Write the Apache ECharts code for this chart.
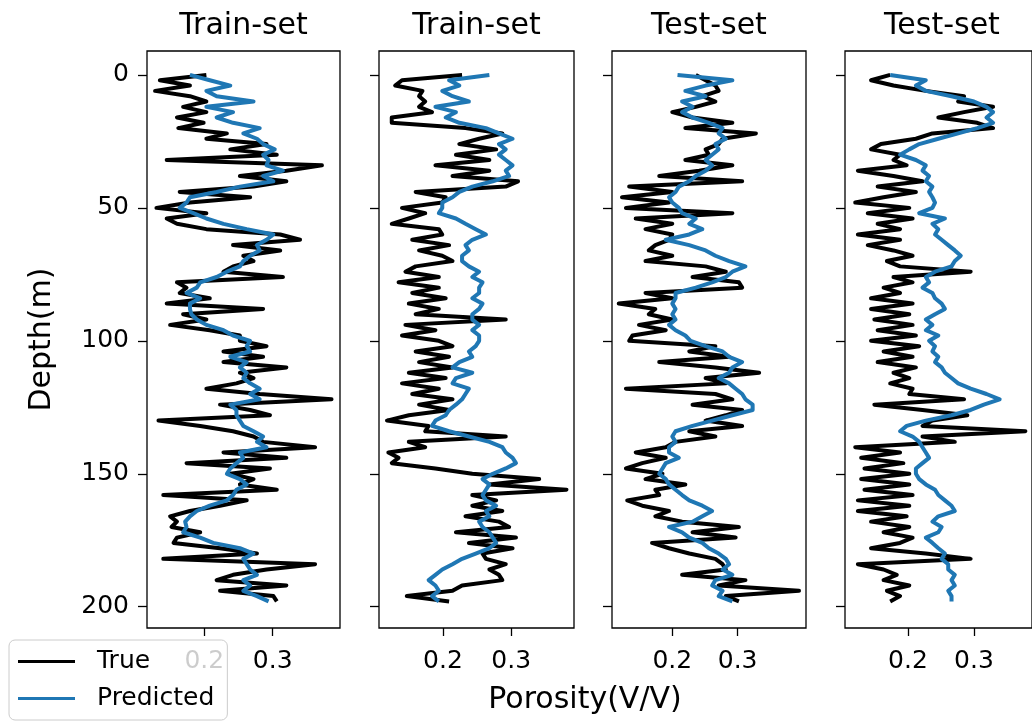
<!DOCTYPE html>
<html>
<head>
<meta charset="utf-8">
<script src="https://cdn.jsdelivr.net/npm/echarts@6/dist/echarts.min.js"></script>
<style>
    html, body { margin: 0; padding: 0; background: #fff; }
    #chart { width: 1032px; height: 723px; }
</style>
</head>
<body>
<div id="chart"></div>
<script>
// depth samples (m), shared by every curve
var depthM = [
    0, 2, 4, 6, 8, 10, 12, 14, 16, 18, 20, 22, 24, 26, 28, 30, 32, 34, 36, 38,
    40, 42, 44, 46, 48, 50, 52, 54, 56, 58, 60, 62, 64, 66, 68, 70, 72, 74, 76, 78,
    80, 82, 84, 86, 88, 90, 92, 94, 96, 98, 100, 102, 104, 106, 108, 110, 112, 114, 116, 118,
    120, 122, 124, 126, 128, 130, 132, 134, 136, 138, 140, 142, 144, 146, 148, 150, 152, 154, 156, 158,
    160, 162, 164, 166, 168, 170, 172, 174, 176, 178, 180, 182, 184, 186, 188, 190, 192, 194, 196, 198
];

var panelTitles = ['Train-set', 'Train-set', 'Test-set', 'Test-set'];
var depthTicks = [0, 50, 100, 150, 200];
var porosityTicks = [0.2, 0.3];

// well 1 (train)
var trueWell1 = [
    0.203, 0.135, 0.179, 0.128, 0.179, 0.203, 0.169, 0.203, 0.160, 0.199,
    0.162, 0.233, 0.203, 0.291, 0.238, 0.306, 0.145, 0.372, 0.320, 0.252,
    0.320, 0.272, 0.164, 0.267, 0.179, 0.130, 0.203, 0.145, 0.160, 0.203,
    0.311, 0.340, 0.242, 0.311, 0.257, 0.272, 0.242, 0.228, 0.315, 0.160,
    0.174, 0.164, 0.208, 0.145, 0.286, 0.169, 0.203, 0.150, 0.208, 0.252,
    0.252, 0.291, 0.228, 0.286, 0.228, 0.320, 0.252, 0.272, 0.247, 0.203,
    0.281, 0.386, 0.223, 0.267, 0.296, 0.133, 0.194, 0.242, 0.272, 0.286,
    0.362, 0.228, 0.320, 0.174, 0.296, 0.238, 0.272, 0.252, 0.306, 0.140,
    0.262, 0.223, 0.179, 0.150, 0.160, 0.152, 0.194, 0.160, 0.155, 0.223,
    0.277, 0.140, 0.362, 0.291, 0.242, 0.218, 0.320, 0.223, 0.301, 0.306
];
var predWell1 = [
    0.179, 0.208, 0.238, 0.203, 0.218, 0.272, 0.203, 0.242, 0.218, 0.242,
    0.281, 0.257, 0.277, 0.286, 0.303, 0.286, 0.294, 0.291, 0.315, 0.286,
    0.301, 0.252, 0.218, 0.179, 0.174, 0.164, 0.184, 0.203, 0.228, 0.262,
    0.301, 0.291, 0.277, 0.281, 0.267, 0.257, 0.252, 0.233, 0.218, 0.194,
    0.189, 0.174, 0.194, 0.179, 0.179, 0.181, 0.189, 0.203, 0.228, 0.242,
    0.267, 0.262, 0.267, 0.238, 0.262, 0.252, 0.262, 0.257, 0.267, 0.281,
    0.267, 0.281, 0.238, 0.247, 0.247, 0.252, 0.257, 0.272, 0.286, 0.277,
    0.291, 0.252, 0.257, 0.247, 0.238, 0.233, 0.252, 0.262, 0.247, 0.242,
    0.233, 0.208, 0.189, 0.179, 0.172, 0.174, 0.169, 0.194, 0.213, 0.252,
    0.272, 0.257, 0.262, 0.267, 0.277, 0.257, 0.267, 0.257, 0.277, 0.294
];

// well 2 (train)
var trueWell2 = [
    0.228, 0.140, 0.130, 0.170, 0.165, 0.174, 0.165, 0.184, 0.125, 0.125,
    0.233, 0.287, 0.253, 0.224, 0.278, 0.219, 0.268, 0.189, 0.268, 0.214,
    0.310, 0.292, 0.160, 0.204, 0.199, 0.140, 0.174, 0.150, 0.125, 0.194,
    0.199, 0.155, 0.209, 0.165, 0.199, 0.214, 0.160, 0.145, 0.194, 0.135,
    0.194, 0.155, 0.204, 0.150, 0.194, 0.160, 0.292, 0.145, 0.189, 0.140,
    0.194, 0.214, 0.160, 0.209, 0.165, 0.214, 0.150, 0.204, 0.140, 0.194,
    0.155, 0.214, 0.165, 0.209, 0.150, 0.118, 0.179, 0.174, 0.292, 0.150,
    0.174, 0.120, 0.135, 0.125, 0.189, 0.243, 0.341, 0.268, 0.381, 0.243,
    0.278, 0.243, 0.287, 0.233, 0.282, 0.297, 0.219, 0.307, 0.238, 0.302,
    0.258, 0.263, 0.292, 0.268, 0.282, 0.287, 0.228, 0.214, 0.147, 0.209
];
var predWell2 = [
    0.268, 0.209, 0.224, 0.199, 0.214, 0.238, 0.189, 0.219, 0.204, 0.224,
    0.263, 0.282, 0.302, 0.282, 0.292, 0.282, 0.292, 0.302, 0.292, 0.297,
    0.273, 0.243, 0.224, 0.214, 0.199, 0.199, 0.194, 0.219, 0.233, 0.248,
    0.263, 0.243, 0.233, 0.238, 0.228, 0.228, 0.238, 0.253, 0.243, 0.258,
    0.253, 0.253, 0.243, 0.258, 0.253, 0.243, 0.243, 0.253, 0.243, 0.253,
    0.253, 0.248, 0.238, 0.243, 0.224, 0.214, 0.243, 0.219, 0.214, 0.238,
    0.233, 0.228, 0.219, 0.209, 0.204, 0.189, 0.184, 0.209, 0.238, 0.268,
    0.287, 0.292, 0.302, 0.307, 0.292, 0.273, 0.258, 0.268, 0.263, 0.258,
    0.263, 0.278, 0.263, 0.268, 0.253, 0.258, 0.268, 0.273, 0.278, 0.268,
    0.248, 0.228, 0.214, 0.199, 0.189, 0.179, 0.189, 0.194, 0.184, 0.194
];

// well 3 (test)
var trueWell3 = [
    0.236, 0.251, 0.266, 0.271, 0.246, 0.266, 0.236, 0.200, 0.231, 0.292,
    0.220, 0.328, 0.277, 0.271, 0.251, 0.256, 0.220, 0.292, 0.241, 0.180,
    0.307, 0.134, 0.200, 0.123, 0.195, 0.129, 0.292, 0.144, 0.200, 0.159,
    0.200, 0.195, 0.174, 0.164, 0.200, 0.159, 0.251, 0.282, 0.231, 0.302,
    0.307, 0.159, 0.200, 0.118, 0.174, 0.164, 0.200, 0.149, 0.190, 0.139,
    0.134, 0.266, 0.226, 0.287, 0.180, 0.266, 0.333, 0.251, 0.282, 0.129,
    0.266, 0.292, 0.231, 0.307, 0.282, 0.251, 0.307, 0.226, 0.266, 0.205,
    0.190, 0.144, 0.190, 0.154, 0.129, 0.185, 0.159, 0.220, 0.174, 0.180,
    0.131, 0.154, 0.195, 0.174, 0.215, 0.302, 0.231, 0.297, 0.169, 0.195,
    0.226, 0.266, 0.277, 0.282, 0.215, 0.312, 0.271, 0.394, 0.282, 0.302
];
var predWell3 = [
    0.208, 0.292, 0.251, 0.220, 0.251, 0.215, 0.231, 0.215, 0.231, 0.256,
    0.277, 0.271, 0.282, 0.266, 0.271, 0.261, 0.251, 0.261, 0.251, 0.236,
    0.226, 0.210, 0.205, 0.195, 0.200, 0.210, 0.215, 0.236, 0.226, 0.246,
    0.226, 0.190, 0.226, 0.251, 0.266, 0.287, 0.312, 0.292, 0.282, 0.261,
    0.236, 0.205, 0.205, 0.200, 0.205, 0.200, 0.205, 0.195, 0.205, 0.220,
    0.228, 0.251, 0.277, 0.287, 0.307, 0.292, 0.287, 0.271, 0.287, 0.297,
    0.307, 0.312, 0.323, 0.323, 0.292, 0.261, 0.231, 0.205, 0.200, 0.205,
    0.195, 0.195, 0.210, 0.190, 0.185, 0.180, 0.190, 0.195, 0.205, 0.215,
    0.226, 0.246, 0.261, 0.246, 0.231, 0.195, 0.215, 0.226, 0.246, 0.256,
    0.271, 0.282, 0.287, 0.277, 0.292, 0.266, 0.261, 0.277, 0.271, 0.292
];

// well 4 (test)
var trueWell4 = [
    0.173, 0.144, 0.178, 0.227, 0.285, 0.276, 0.329, 0.285, 0.246, 0.305,
    0.329, 0.237, 0.212, 0.159, 0.144, 0.188, 0.178, 0.198, 0.124, 0.178,
    0.222, 0.154, 0.212, 0.163, 0.120, 0.202, 0.139, 0.207, 0.154, 0.188,
    0.124, 0.188, 0.139, 0.178, 0.207, 0.168, 0.188, 0.295, 0.178, 0.207,
    0.163, 0.188, 0.144, 0.207, 0.144, 0.202, 0.149, 0.207, 0.154, 0.212,
    0.144, 0.217, 0.163, 0.207, 0.154, 0.212, 0.178, 0.202, 0.173, 0.207,
    0.202, 0.285, 0.149, 0.222, 0.290, 0.237, 0.222, 0.378, 0.222, 0.271,
    0.120, 0.188, 0.129, 0.193, 0.134, 0.202, 0.129, 0.202, 0.134, 0.207,
    0.124, 0.202, 0.124, 0.198, 0.144, 0.202, 0.163, 0.207, 0.188, 0.144,
    0.227, 0.295, 0.124, 0.163, 0.183, 0.163, 0.202, 0.168, 0.188, 0.173
];
var predWell4 = [
    0.173, 0.227, 0.212, 0.227, 0.266, 0.300, 0.319, 0.329, 0.319, 0.329,
    0.305, 0.276, 0.246, 0.217, 0.202, 0.188, 0.212, 0.227, 0.222, 0.232,
    0.227, 0.237, 0.232, 0.237, 0.241, 0.237, 0.217, 0.256, 0.237, 0.246,
    0.241, 0.251, 0.261, 0.271, 0.280, 0.271, 0.266, 0.241, 0.227, 0.232,
    0.222, 0.237, 0.241, 0.251, 0.256, 0.241, 0.227, 0.237, 0.227, 0.246,
    0.232, 0.241, 0.237, 0.246, 0.241, 0.251, 0.256, 0.266, 0.276, 0.295,
    0.319, 0.339, 0.315, 0.295, 0.266, 0.227, 0.198, 0.188, 0.207, 0.217,
    0.222, 0.227, 0.232, 0.222, 0.212, 0.212, 0.217, 0.227, 0.241, 0.246,
    0.256, 0.266, 0.271, 0.246, 0.237, 0.251, 0.246, 0.227, 0.237, 0.246,
    0.256, 0.251, 0.261, 0.261, 0.271, 0.266, 0.271, 0.261, 0.266, 0.266
];

var trueSets = [trueWell1, trueWell2, trueWell3, trueWell4];
var predSets = [predWell1, predWell2, predWell3, predWell4];

// panel frames (px) and porosity ranges
var layout = [
    {left: 147, width: 193, xMin: 0.1162, xMax: 0.3984},
    {left: 379, width: 195, xMin: 0.1063, xMax: 0.3920},
    {left: 612, width: 194, xMin: 0.1077, xMax: 0.4047},
    {left: 845, width: 194, xMin: 0.1045, xMax: 0.3880}
];
var gridTop = 51, gridHeight = 577;
var fontFamily = 'DejaVu Sans';

function toPairs(vals) {
    var out = [];
    for (var i = 0; i < vals.length; i++) {
        out.push([vals[i], depthM[i]]);
    }
    return out;
}

var grids = [], xAxes = [], yAxes = [], series = [], graphics = [];

for (var p = 0; p < 4; p++) {
    var lay = layout[p];
    grids.push({
        left: lay.left, top: gridTop, width: lay.width, height: gridHeight,
        show: true, borderColor: '#000', borderWidth: 1.3, backgroundColor: 'transparent'
    });
    xAxes.push({
        type: 'value', gridIndex: p, min: lay.xMin, max: lay.xMax, position: 'bottom',
        axisLine: {show: false, onZero: false},
        splitLine: {show: false},
        axisTick: {show: true, length: 8, customValues: porosityTicks, lineStyle: {color: '#000', width: 1.3}},
        axisLabel: {
            customValues: porosityTicks, margin: 21, color: '#000',
            fontSize: 25, fontFamily: fontFamily,
            formatter: function (v) { return v.toFixed(1); }
        }
    });
    yAxes.push({
        type: 'value', gridIndex: p, inverse: true, min: -9, max: 208, position: 'left',
        name: p === 0 ? 'Depth(m)' : '',
        nameLocation: 'middle', nameRotate: 90, nameGap: 90,
        nameTextStyle: {fontSize: 30, fontFamily: fontFamily, color: '#000'},
        axisLine: {show: false, onZero: false},
        splitLine: {show: false},
        axisTick: {show: true, length: 9, customValues: depthTicks, lineStyle: {color: '#000', width: 1.3}},
        axisLabel: {
            show: p === 0, customValues: depthTicks, margin: 18, color: '#000',
            fontSize: 25, fontFamily: fontFamily
        }
    });
    series.push({
        name: 'True', type: 'line', xAxisIndex: p, yAxisIndex: p,
        data: toPairs(trueSets[p]), showSymbol: false, symbol: 'none',
        lineStyle: {color: '#000', width: 4, join: 'round'}, itemStyle: {color: '#000'},
        clip: true, z: 2
    });
    series.push({
        name: 'Predicted', type: 'line', xAxisIndex: p, yAxisIndex: p,
        data: toPairs(predSets[p]), showSymbol: false, symbol: 'none',
        lineStyle: {color: '#1f77b4', width: 4, join: 'round'}, itemStyle: {color: '#1f77b4'},
        clip: true, z: 3
    });
    graphics.push({
        type: 'text', x: lay.left + lay.width / 2, y: 26,
        style: {
            text: panelTitles[p], fill: '#000',
            font: '30px "DejaVu Sans"', textAlign: 'center', textVerticalAlign: 'middle'
        }
    });
}

graphics.push({
    type: 'text', x: 585, y: 700,
    style: {
        text: 'Porosity(V/V)', fill: '#000',
        font: '30px "DejaVu Sans"', textAlign: 'center', textVerticalAlign: 'middle'
    }
});

var myChart = echarts.init(document.getElementById('chart'));
var option = {
    animation: false,
    backgroundColor: '#fff',
    grid: grids,
    xAxis: xAxes,
    yAxis: yAxes,
    series: series,
    legend: {
        data: ['True', 'Predicted'],
        orient: 'vertical',
        left: 9, top: 640,
        icon: 'rect', itemWidth: 57, itemHeight: 3, itemGap: 12,
        padding: [9, 13, 9, 9],
        backgroundColor: 'rgba(255,255,255,0.8)',
        borderColor: '#cccccc', borderWidth: 1, borderRadius: 6,
        selectedMode: false,
        textStyle: {fontSize: 25, fontFamily: fontFamily, color: '#000', padding: [0, 0, 0, 17]}
    },
    graphic: graphics
};
myChart.setOption(option);
</script>
</body>
</html>
